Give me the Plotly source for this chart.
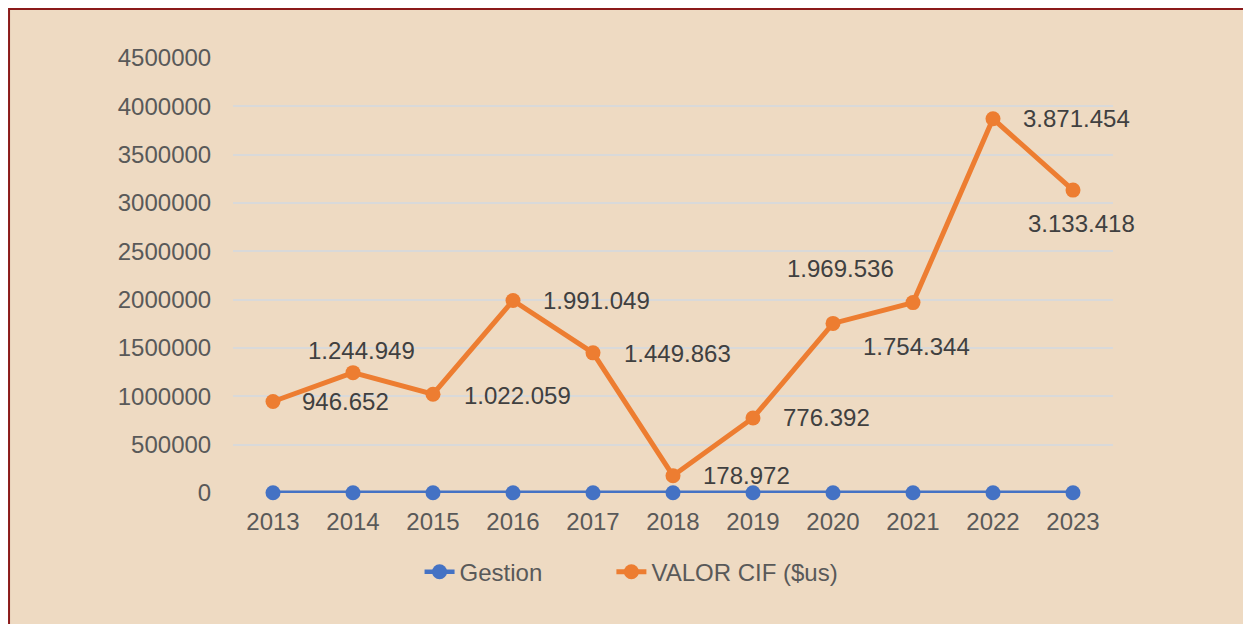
import plotly.graph_objects as go

anios = ['2013', '2014', '2015', '2016', '2017', '2018', '2019', '2020', '2021', '2022', '2023']
gestion = [2013, 2014, 2015, 2016, 2017, 2018, 2019, 2020, 2021, 2022, 2023]
valor_cif = [946652, 1244949, 1022059, 1991049, 1449863, 178972, 776392, 1754344, 1969536, 3871454, 3133418]
etiquetas = ['946.652', '1.244.949', '1.022.059', '1.991.049', '1.449.863', '178.972',
             '776.392', '1.969.536', '1.754.344', '3.871.454', '3.133.418']
y_ticks = [0, 500000, 1000000, 1500000, 2000000, 2500000, 3000000, 3500000, 4000000, 4500000]

# desplazamiento de las etiquetas (px) respecto a cada punto
desp_x = [72, 8, 84, 83, 84, 73, 73, 7, 3, 83, 8]
desp_y = [0, 22, -1, 0, -1, 0, 0, 55, -44, 0, -33]

fuente = 'Liberation Sans, Arial, sans-serif'
azul = '#4472C4'
naranja = '#ED7D31'

fig = go.Figure()
fig.add_trace(go.Scatter(x=anios, y=gestion, name='Gestion', mode='lines+markers', cliponaxis=False,
                         line=dict(color=azul, width=4.5), marker=dict(size=15, color=azul),
                         legend='legend'))
fig.add_trace(go.Scatter(x=anios, y=valor_cif, name='VALOR CIF ($us)', mode='lines+markers', cliponaxis=False,
                         line=dict(color=naranja, width=5), marker=dict(size=15, color=naranja),
                         legend='legend2'))

for i, (v, t, dx, dy) in enumerate(zip(valor_cif, etiquetas, desp_x, desp_y)):
    fig.add_annotation(x=i, y=v, xref='x', yref='y', text=t, showarrow=False,
                       xshift=dx, yshift=dy,
                       font=dict(family=fuente, size=24, color='#404040'))

# marco del grafico
fig.add_shape(type='rect', xref='paper', yref='paper', x0=-0.2545, x1=1.3, y0=-0.4, y1=1.1126,
              fillcolor='#EEDAC2', line=dict(color='#8B1A1A', width=2), layer='below')

leyenda = dict(orientation='h', xanchor='left', y=-0.182, yanchor='middle',
               font=dict(size=24, color='#595959'), bgcolor='rgba(0,0,0,0)')

fig.update_layout(
    width=1251, height=624,
    margin=dict(l=225, r=146, t=50, b=139),
    paper_bgcolor='#FDF1E3', plot_bgcolor='rgba(0,0,0,0)',
    font=dict(family=fuente, size=24, color='#595959'),
    showlegend=True,
    legend=dict(leyenda, x=0.212),
    legend2=dict(leyenda, x=0.43),
    xaxis=dict(type='category', range=[-0.5, 10.5], showgrid=False, zeroline=False, showline=False,
               ticks='outside', ticklen=7, tickcolor='rgba(0,0,0,0)'),
    yaxis=dict(range=[0, 4500000], tickvals=y_ticks, tickformat='d', showgrid=True,
               gridcolor='#D9D9D9', gridwidth=1.5, zeroline=False, showline=False,
               ticks='outside', ticklen=16, tickcolor='rgba(0,0,0,0)'),
)

fig.write_html('out.html')
